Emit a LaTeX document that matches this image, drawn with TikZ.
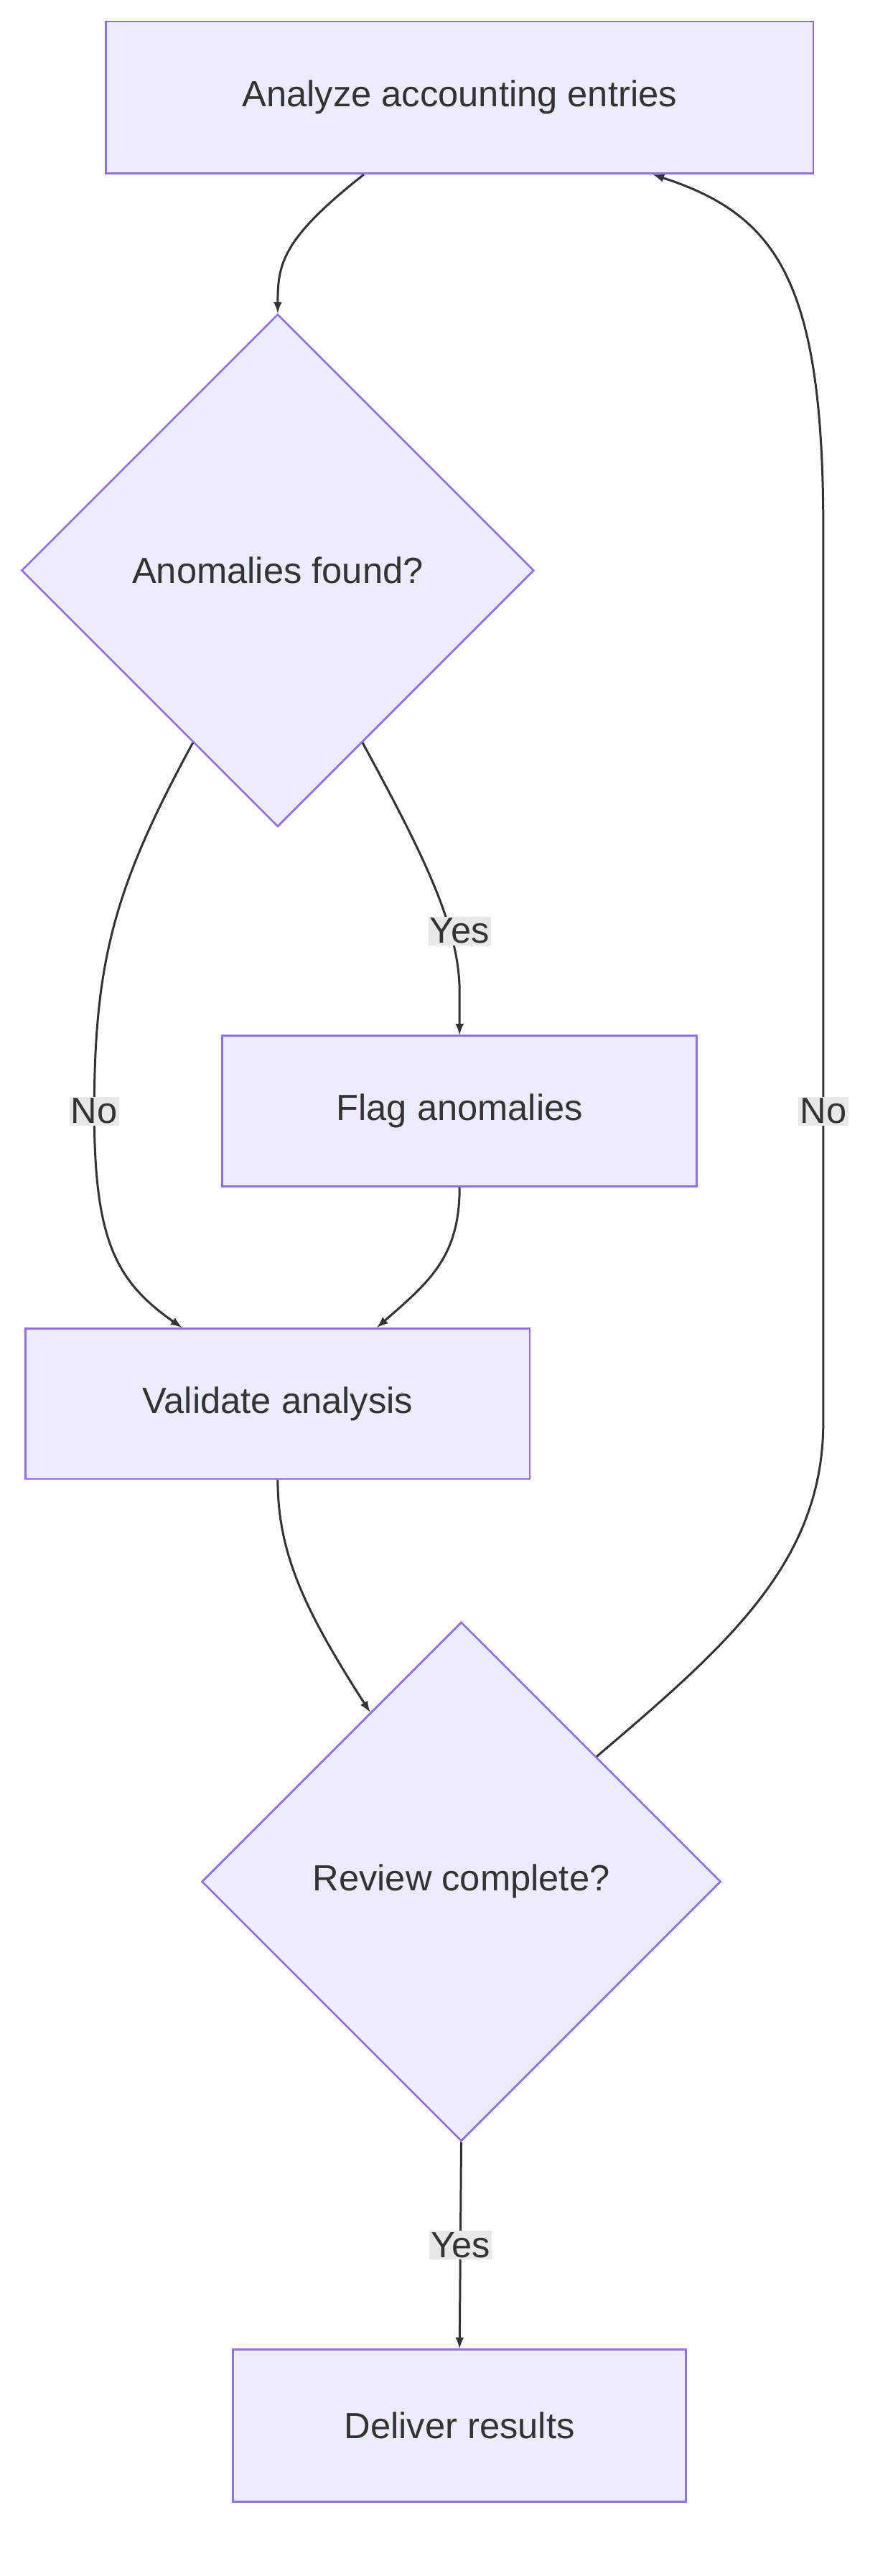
\documentclass[tikz,border=0pt]{standalone}
\usepackage{fontspec}
\setmainfont{Liberation Sans}
\usetikzlibrary{shapes.geometric,calc,arrows}
\definecolor{boxfill}{HTML}{ECECFF}
\definecolor{boxline}{HTML}{9370DB}
\definecolor{edge}{HTML}{333333}
\definecolor{lblfill}{HTML}{E8E8E8}
\begin{document}
\begin{tikzpicture}[
x=1pt,y=-1pt,
every node/.style={font=\fontsize{22}{26}\selectfont,text=edge},
proc/.style={
  draw=boxline,
  fill=boxfill,
  line width=1.2pt,
  inner sep=0pt
},
test/.style={
  proc,
  diamond,
  minimum width=310pt,
  minimum height=310pt
},
flow/.style={
  draw=edge,
  line width=1.3pt,
  -latex
},
lbl/.style={
  fill=lblfill,
  inner sep=1pt
}
]
\useasboundingbox (0,0) rectangle (540,1558);

\node[proc,minimum width=428pt,minimum height=92pt] (ana) at (278,59)
  {Analyze accounting entries};
\node[test] (found) at (168,345) {Anomalies found?};
\node[proc,minimum width=287pt,minimum height=91pt] (flag) at (278,672)
  {Flag anomalies};
\node[proc,minimum width=305pt,minimum height=91pt] (val) at (168,849)
  {Validate analysis};
\node[test,minimum width=314pt,minimum height=314pt] (done) at (279,1138)
  {Review complete?};
\node[proc,minimum width=274pt,minimum height=92pt] (res) at (278,1467)
  {Deliver results};

\draw[flow] ($(ana.south)+(-58,0)$) .. controls (170,145) and (168,160) .. (found.north);
\draw[flow] ($(found.west)!0.67!(found.south)$) .. controls (70,535) and (57,580) .. (57,672)
  node[lbl] {No} .. controls (57,750) and (70,775) .. ($(val.north)+(-58,0)$);
\draw[flow] ($(found.east)!0.67!(found.south)$) .. controls (255,515) and (278,560) .. (278,600)
  -- (flag.north);
\node[lbl] (yes1) at (278,563) {Yes};
\draw[flow] (flag.south) .. controls (278,760) and (260,775) .. ($(val.north)+(60,0)$);
\draw[flow] (val.south) .. controls (168,940) and (185,975) .. ($(done.north)!0.35!(done.west)$);
\draw[flow] ($(done.north)!0.52!(done.east)$) .. controls (440,995) and (498,945) .. (498,860)
  -- (498,320) .. controls (498,170) and (470,130) .. ($(ana.south)+(117,0)$);
\node[lbl] (no2) at (498,672) {No};
\draw[flow] (done.south) -- node[lbl] {Yes} (res.north);
\end{tikzpicture}
\end{document}
